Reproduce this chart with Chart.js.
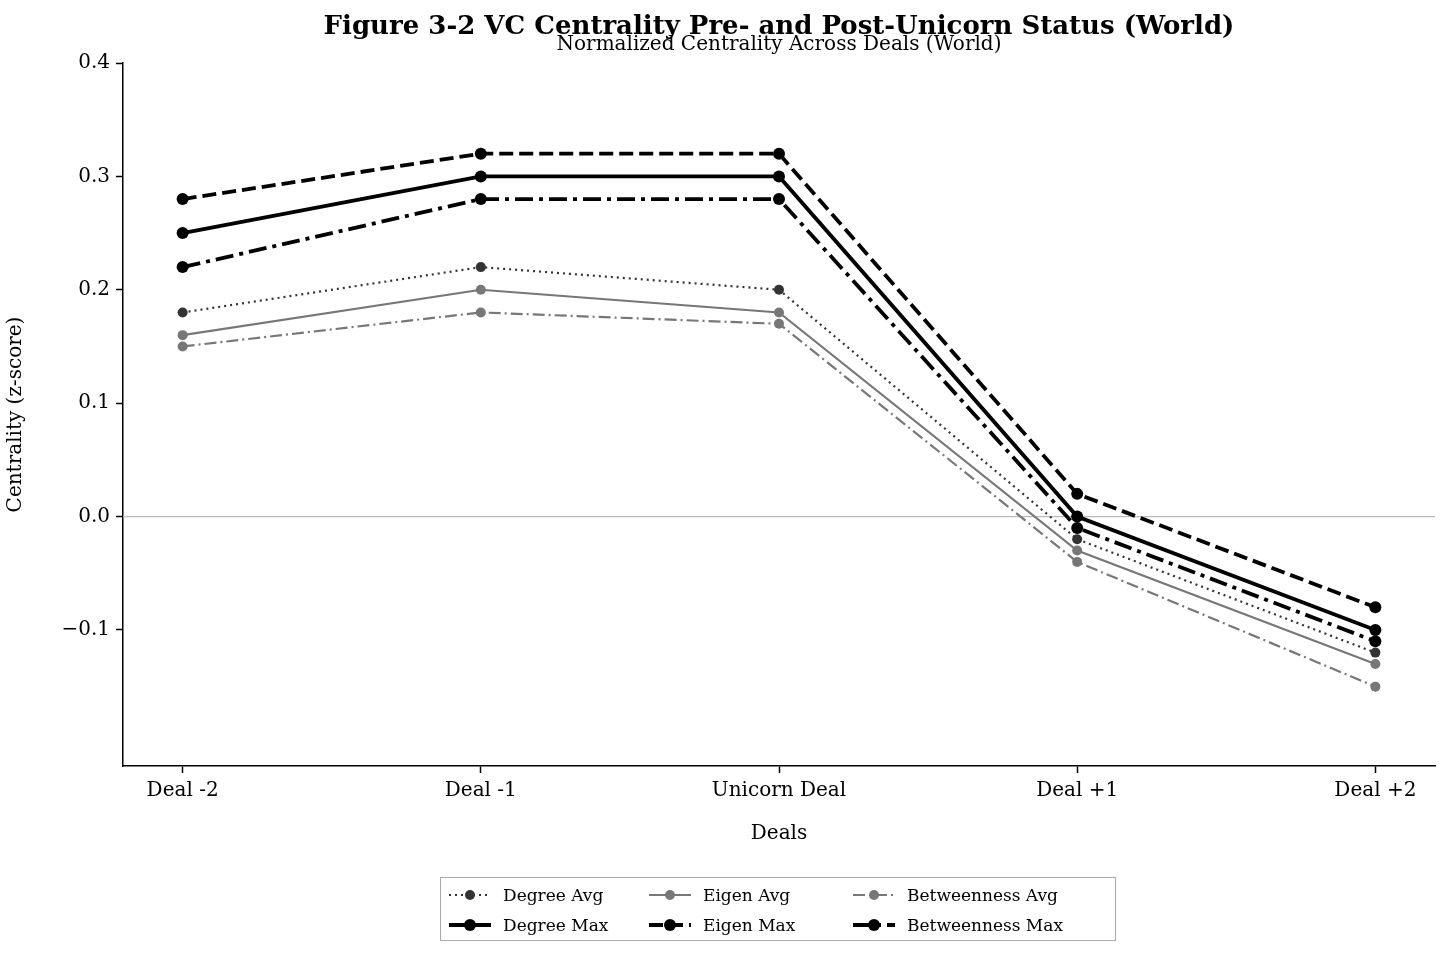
<!DOCTYPE html>
<html><head><meta charset="utf-8">
<script src="https://cdn.jsdelivr.net/npm/chart.js@4"></script>
<style>
body{margin:0;background:#fff;font-family:"DejaVu Serif",serif;}
#wrap{position:relative;width:1451px;height:959px;}
#legend{position:absolute;left:440px;top:877px;width:676px;height:64px;border:1.5px solid #aaa;box-sizing:border-box;display:grid;grid-template-columns:200px 204px 270px;grid-auto-flow:column;grid-template-rows:30px 30px;padding:2px 0 0 6px;font-size:17px;}
#legend div{display:flex;align-items:center;gap:10px;white-space:nowrap;}
</style></head><body>
<div id="wrap"><canvas id="c" width="1451" height="959"></canvas><div id="legend"></div></div>
<script>
const categories=["Deal -2","Deal -1","Unicorn Deal","Deal +1","Deal +2"];
const degreeAvg=[0.18,0.22,0.20,-0.02,-0.12];
const degreeMax=[0.25,0.30,0.30,0.00,-0.10];
const eigenAvg=[0.16,0.20,0.18,-0.03,-0.13];
const eigenMax=[0.28,0.32,0.32,0.02,-0.08];
const betweennessAvg=[0.15,0.18,0.17,-0.04,-0.15];
const betweennessMax=[0.22,0.28,0.28,-0.01,-0.11];
const yTicks=[-0.1,0,0.1,0.2,0.3,0.4];

const specs=[
 {label:"Degree Avg",data:degreeAvg,color:"#333",w:2.2,dash:[2,4],r:5},
 {label:"Degree Max",data:degreeMax,color:"#000",w:3.8,dash:[],r:6},
 {label:"Eigen Avg",data:eigenAvg,color:"#777",w:2.2,dash:[],r:5},
 {label:"Eigen Max",data:eigenMax,color:"#000",w:3.8,dash:[14,6],r:6},
 {label:"Betweenness Avg",data:betweennessAvg,color:"#777",w:2.2,dash:[12,4,2,4],r:5},
 {label:"Betweenness Max",data:betweennessMax,color:"#000",w:3.8,dash:[18,6,4,6],r:6}
];
const datasets=specs.map(s=>({label:s.label,data:s.data.map((v,i)=>({x:i,y:v})),borderColor:s.color,backgroundColor:s.color,borderWidth:s.w,borderDash:s.dash,pointRadius:s.r,pointBorderWidth:0,pointBackgroundColor:s.color,tension:0}));

const F="'DejaVu Serif', serif";
const deco={id:'deco',beforeDatasetsDraw(ch){const c=ch.ctx,a=ch.chartArea,y=ch.scales.y.getPixelForValue(0);
 c.save();c.strokeStyle='#bbb';c.lineWidth=1.2;c.beginPath();c.moveTo(a.left,y);c.lineTo(a.right,y);c.stroke();c.restore();},
 afterDraw(ch){const c=ch.ctx;c.save();c.fillStyle='#000';c.textAlign='center';c.textBaseline='middle';
 c.font="bold 26px "+F;c.fillText("Figure 3-2 VC Centrality Pre- and Post-Unicorn Status (World)",779,27);
 c.font="20px "+F;c.fillText("Normalized Centrality Across Deals (World)",779,45);c.restore();}};

new Chart(document.getElementById('c'),{type:'line',data:{datasets},
options:{responsive:false,animation:false,
 layout:{padding:{top:63,right:16,bottom:109,left:0}},
 plugins:{legend:{display:false},tooltip:{enabled:false}},
 scales:{
  x:{type:'linear',min:-0.2,max:4.2,
   afterBuildTicks(s){s.ticks=categories.map((_,i)=>({value:i}));},
   afterFit(s){s.height=84;},
   grid:{drawOnChartArea:false,color:'#000',tickLength:7,tickWidth:1.5},border:{color:'#000',width:1.5},
   ticks:{color:'#000',font:{family:F,size:20},padding:6,callback:v=>categories[v]},
   title:{display:true,text:'Deals',color:'#000',font:{family:F,size:20},padding:{top:4}}},
  y:{min:-0.22,max:0.4,
   afterBuildTicks(s){s.ticks=yTicks.map(v=>({value:v}));},
   afterFit(s){s.width=123;},
   grid:{drawOnChartArea:false,color:'#000',tickLength:7,tickWidth:1.5},border:{color:'#000',width:1.5},
   ticks:{color:'#000',font:{family:F,size:20},padding:6,callback:v=>(v<0?'\u2212':'')+Math.abs(v).toFixed(1)},
   title:{display:true,text:'Centrality (z-score)',color:'#000',font:{family:F,size:20},padding:{bottom:4}}}
 }},plugins:[deco]});

const lg=document.getElementById('legend');
const order=[0,1,2,3,4,5];
order.forEach(i=>{const s=specs[i];const d=document.createElement('div');
 d.innerHTML=`<svg width="46" height="20"><line x1="2" y1="10" x2="44" y2="10" stroke="${s.color}" stroke-width="${s.w}" stroke-dasharray="${s.dash.join(' ')}"/><circle cx="23" cy="10" r="${s.r}" fill="${s.color}"/></svg><span>${s.label}</span>`;
 lg.appendChild(d);});
</script></body></html>
